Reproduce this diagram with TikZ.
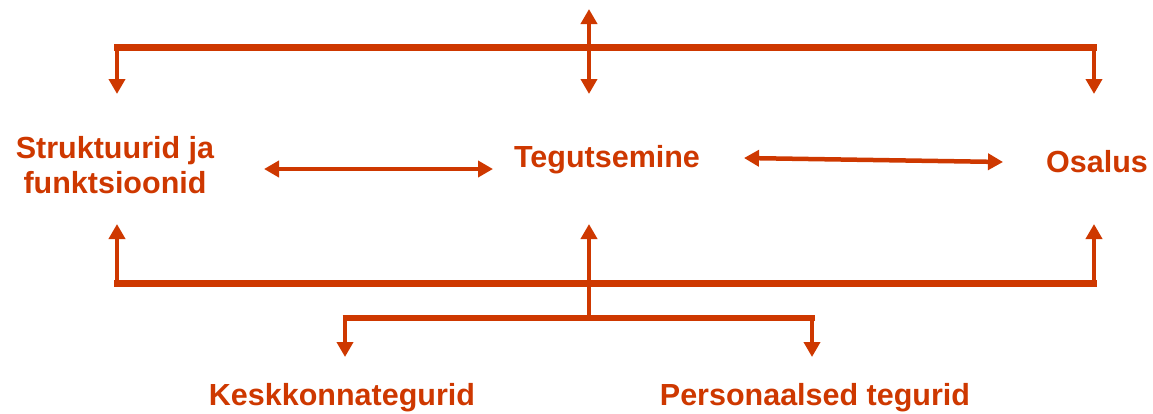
\documentclass[tikz,border=0pt]{standalone}
\usepackage{fontspec}
\setmainfont{Liberation Sans}
\usetikzlibrary{arrows.meta}
\definecolor{rust}{RGB}{206,56,0}
\tikzset{
  lbl/.style={text=rust, font=\fontsize{30.5}{35}\selectfont\bfseries, inner sep=0pt, anchor=base, align=center},
  bus/.style={draw=rust, line width=7pt},
  link/.style={draw=rust, line width=4.5pt, -{Triangle[length=15pt,width=16pt]}},
  dlink/.style={draw=rust, line width=4.5pt, {Triangle[length=15pt,width=16pt]}-{Triangle[length=15pt,width=16pt]}},
}
\begin{document}
\begin{tikzpicture}[x=1pt,y=-1pt]
\useasboundingbox (0,0) rectangle (1153,413);
% labels
\node[lbl] (s1) at (115,158) {Struktuurid ja};
\node[lbl] (s2) at (115,193) {funktsioonid};
\node[lbl] (t) at (607,167) {Tegutsemine};
\node[lbl] (o) at (1097,172) {Osalus};
\node[lbl] (k) at (342,405) {Keskkonnategurid};
\node[lbl] (p) at (815,405) {Personaalsed tegurid};
% coordinates
\coordinate (tl) at (117,47);
\coordinate (tc) at (589,47);
\coordinate (tr) at (1094,47);
\coordinate (tlend) at (114,47);
\coordinate (trend) at (1097,47);
\coordinate (ltip) at (117,94);
\coordinate (rtip) at (1094,94);
\coordinate (ctop) at (589,9);
\coordinate (cbot) at (589,94);
\coordinate (bl) at (117,283);
\coordinate (br) at (1094,283);
\coordinate (blend) at (114,283);
\coordinate (brend) at (1097,283);
\coordinate (blt) at (117,224);
\coordinate (brt) at (1094,224);
\coordinate (ctip) at (589,224);
\coordinate (cl) at (589,318);
\coordinate (ll) at (345,318);
\coordinate (lr) at (812,318);
\coordinate (llend) at (342.5,318);
\coordinate (lrend) at (814.5,318);
\coordinate (ktip) at (345,357);
\coordinate (ptip) at (812,357);
\coordinate (a1) at (264,169);
\coordinate (a2) at (493,169);
\coordinate (b1) at (744,158);
\coordinate (b2) at (1003,162);
% top bus
\draw[bus] (tlend) -- (trend);
\draw[link] ([yshift=-3pt]tl) -- (ltip);
\draw[link] ([yshift=-3pt]tr) -- (rtip);
\draw[dlink] (ctop) -- (cbot);
% middle arrows
\draw[dlink] (a1) -- (a2);
\draw[dlink] (b1) -- (b2);
% bottom bus
\draw[bus] (blend) -- (brend);
\draw[link] ([yshift=3pt]bl) -- (blt);
\draw[link] ([yshift=3pt]br) -- (brt);
\draw[link] (cl) -- (ctip);
\draw[bus, line width=6pt] (llend) -- (lrend);
\draw[link] ([yshift=-2.5pt]ll) -- (ktip);
\draw[link] ([yshift=-2.5pt]lr) -- (ptip);
\end{tikzpicture}
\end{document}
